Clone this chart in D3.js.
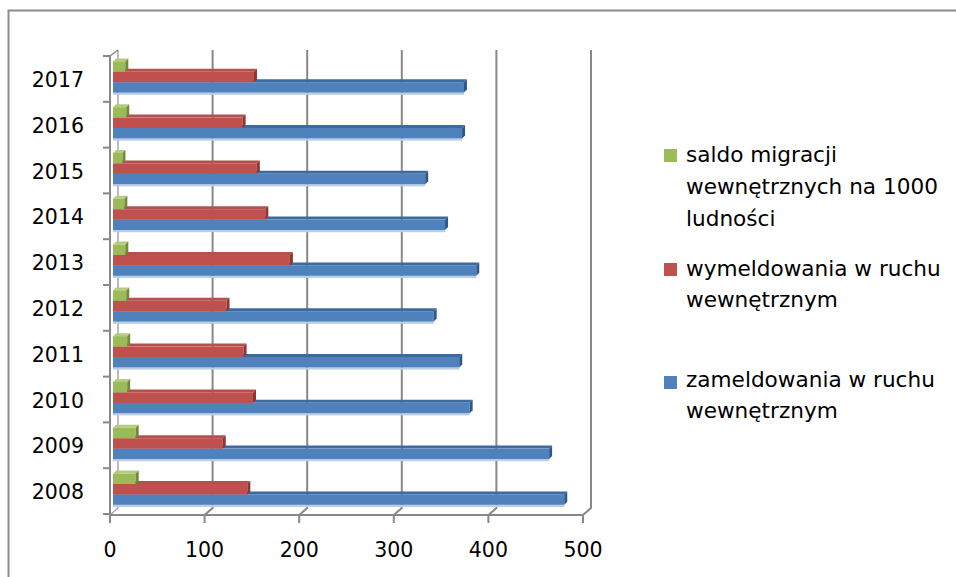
<!DOCTYPE html>
<html>
<head>
<meta charset="utf-8">
<script src="https://cdn.jsdelivr.net/npm/d3@7"></script>
<style>
  html, body { margin: 0; padding: 0; background: #fff; }
  svg { display: block; }
  text { font-family: "DejaVu Sans", sans-serif; fill: #000; }
</style>
</head>
<body>
<svg id="chart" width="956" height="577"></svg>
<script>
// Migration data, 2008–2017
const years = [2008, 2009, 2010, 2011, 2012, 2013, 2014, 2015, 2016, 2017];
const zameldowania = [477, 461, 377, 366, 339, 384, 351, 330, 369, 371];
const wymeldowania = [142, 116, 148, 138, 120, 187, 161, 152, 137, 149];
const saldo = [24, 24, 15, 15, 14, 13, 12, 10, 14, 13];
const xTicks = [0, 100, 200, 300, 400, 500];

const seriesNames = [
  "saldo migracji wewnętrznych na 1000 ludności",
  "wymeldowania w ruchu wewnętrznym",
  "zameldowania w ruchu wewnętrznym"
];
const legendLines = [
  ["saldo migracji", "wewnętrznych na 1000", "ludności"],
  ["wymeldowania w ruchu", "wewnętrznym"],
  ["zameldowania w ruchu", "wewnętrznym"]
];

const svg = d3.select("#chart");

// outer chart frame
svg.append("path")
  .attr("d", "M8.5,577 V10.5 H956")
  .attr("fill", "none").attr("stroke", "#8c8c8c").attr("stroke-width", 2);

// scales (front plane of the 3D box)
const x = d3.scaleLinear().domain([0, 500]).range([110, 583]);
const y = d3.scaleBand().domain(years.slice().reverse()).range([56, 514]);
const floorY = 515;
const DX = 8, DY = -7;      // depth of the box
const BX = 3, BY = -3;      // depth of each bar
const wallTop = 50;
const gridColor = "#888888";

const grid = svg.append("g");
// back wall left edge
grid.append("line")
  .attr("x1", x(0) + DX).attr("x2", x(0) + DX)
  .attr("y1", wallTop).attr("y2", floorY + DY)
  .attr("stroke", "#a6a6a6").attr("stroke-width", 1.5);
// back wall gridlines plus floor diagonals
xTicks.filter(d => d > 0).forEach(v => {
  grid.append("path")
    .attr("d", `M${x(v) + DX},${wallTop} V${floorY + DY} L${x(v)},${floorY}`)
    .attr("fill", "none").attr("stroke", gridColor).attr("stroke-width", 2);
});
// side wall diagonals at left
grid.append("path")
  .attr("d", `M${x(0)},${y.range()[0]} L${x(0) + DX},${wallTop}`)
  .attr("fill", "none").attr("stroke", gridColor).attr("stroke-width", 1.5);
grid.append("path")
  .attr("d", `M${x(0)},${floorY} L${x(0) + DX},${floorY + DY}`)
  .attr("fill", "none").attr("stroke", "#a6a6a6").attr("stroke-width", 1.5);

// bars
const barH = 10.4;
const styles = [
  { vals: saldo, front: "#9bbb59", top: "#b3cc7f", side: "#718b3a", off: 0 },
  { vals: wymeldowania, front: "#c0504d", top: "#b3514f", side: "#8e3532", off: 1 },
  { vals: zameldowania, front: "#4f81bd", top: "#3d6aa1", side: "#2f5788", off: 2 }
];
const bars = svg.append("g");
years.slice().reverse().forEach(yr => {
  const i = years.indexOf(yr);
  const g = bars.append("g");
  // draw blue, red, green so nearer faces overlap correctly
  [2, 1, 0].forEach(s => {
    const st = styles[s];
    const v = st.vals[i];
    const x0 = x(0) + BX, x1 = x(v) + BX;
    const y0 = y(yr) + 5.4 + st.off * barH, y1 = y0 + barH;
    if (s === 2) {
      g.append("rect").attr("x", x0).attr("y", y1).attr("width", x1 - x0)
        .attr("height", 2.2).attr("fill", "#b9cde5");
    }
    // top face
    g.append("path")
      .attr("d", `M${x0},${y0} L${x0 + BX},${y0 + BY} L${x1 + BX},${y0 + BY} L${x1},${y0} Z`)
      .attr("fill", st.top);
    // front face
    g.append("rect").attr("x", x0).attr("y", y0).attr("width", x1 - x0)
      .attr("height", barH).attr("fill", st.front);
    // right side face
    g.append("path")
      .attr("d", `M${x1},${y0} L${x1 + BX},${y0 + BY} L${x1 + BX},${y1 + BY} L${x1},${y1} Z`)
      .attr("fill", st.side);
  });
});

// front category axis
const axisG = svg.append("g");
axisG.append("line")
  .attr("x1", x(0)).attr("x2", x(0))
  .attr("y1", y.range()[0]).attr("y2", floorY)
  .attr("stroke", gridColor).attr("stroke-width", 2);
const bandEdges = years.map(yr => y(yr)).concat([y.range()[1]]);
bandEdges.forEach(e => {
  axisG.append("line")
    .attr("x1", x(0) - 7).attr("x2", x(0))
    .attr("y1", e).attr("y2", e)
    .attr("stroke", gridColor).attr("stroke-width", 2);
});
axisG.selectAll("text.year").data(years).join("text")
  .attr("class", "year")
  .attr("x", 84)
  .attr("y", d => y(d) + y.bandwidth() / 2 + 8)
  .attr("text-anchor", "end")
  .attr("font-size", 20.5)
  .text(d => d);

// front value axis
axisG.append("line")
  .attr("x1", x(0)).attr("x2", x(500))
  .attr("y1", floorY).attr("y2", floorY)
  .attr("stroke", gridColor).attr("stroke-width", 2);
xTicks.forEach(v => {
  axisG.append("line")
    .attr("x1", x(v)).attr("x2", x(v))
    .attr("y1", floorY).attr("y2", floorY + 8)
    .attr("stroke", gridColor).attr("stroke-width", 2);
});
axisG.selectAll("text.xt").data(xTicks).join("text")
  .attr("class", "xt")
  .attr("x", d => x(d))
  .attr("y", 557)
  .attr("text-anchor", "middle")
  .attr("font-size", 20.5)
  .text(d => d);

// legend
const legendColors = ["#9bbb59", "#c0504d", "#4f81bd"];
const legendSquareY = [149, 263, 376];
const legendBaselines = [[162, 194, 226], [276, 307], [387, 418]];
const legend = svg.append("g");
legendLines.forEach((lines, i) => {
  const item = legend.append("g").attr("aria-label", seriesNames[i]);
  item.append("rect")
    .attr("x", 664).attr("y", legendSquareY[i])
    .attr("width", 13).attr("height", 13)
    .attr("fill", legendColors[i]);
  lines.forEach((t, j) => {
    item.append("text")
      .attr("x", 686).attr("y", legendBaselines[i][j])
      .attr("font-size", 21.6)
      .text(t);
  });
});
</script>
</body>
</html>
